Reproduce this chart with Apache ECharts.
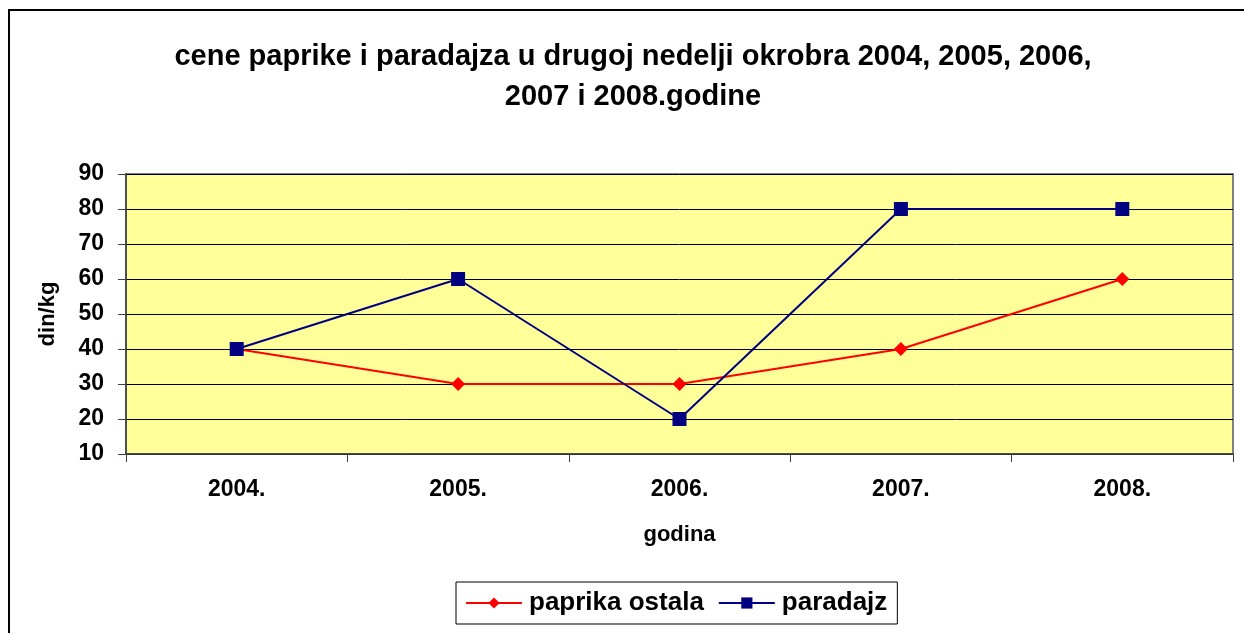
<!DOCTYPE html>
<html>
<head>
<meta charset="utf-8">
<script src="https://cdn.jsdelivr.net/npm/echarts@6/dist/echarts.min.js"></script>
<style>
  html, body { margin: 0; padding: 0; background: #fff; }
  #main { width: 1244px; height: 633px; }
</style>
</head>
<body>
<div id="main"></div>
<script>
// podaci
var godine = ['2004.', '2005.', '2006.', '2007.', '2008.'];
var paprikaOstala = [40, 30, 30, 40, 60];
var paradajz = [40, 60, 20, 80, 80];

var font = 'Arial, "Liberation Sans", sans-serif';

var myChart = echarts.init(document.getElementById('main'));
myChart.setOption({
    animation: false,
    backgroundColor: '#fff',
    title: {
        text: 'cene paprike i paradajza u drugoj nedelji okrobra 2004, 2005, 2006,\n2007 i 2008.godine',
        left: 628,
        textAlign: 'center',
        top: 32,
        textStyle: { fontFamily: font, fontSize: 29, fontWeight: 'bold', color: '#000', lineHeight: 40 }
    },
    graphic: [{
        type: 'rect',
        shape: { x: 9, y: 10, width: 1300, height: 700 },
        style: { fill: 'none', stroke: '#000', lineWidth: 2 },
        silent: true
    }],
    grid: {
        left: 126, top: 174, right: 11, bottom: 179,
        show: true,
        backgroundColor: '#FFFF99',
        borderColor: '#808080',
        borderWidth: 2
    },
    legend: {
        left: 456, top: 582,
        padding: [8, 10, 8, 9],
        itemGap: 14,
        itemWidth: 56,
        itemHeight: 14,
        borderColor: '#000',
        borderWidth: 1,
        textStyle: { fontFamily: font, fontSize: 26, fontWeight: 'bold', color: '#000', padding: [0, 0, 0, 2] },
        data: ['paprika ostala', 'paradajz']
    },
    xAxis: {
        type: 'category',
        data: godine,
        boundaryGap: true,
        name: 'godina',
        nameLocation: 'middle',
        nameGap: 70,
        nameTextStyle: { fontFamily: font, fontSize: 22, fontWeight: 'bold', color: '#000' },
        axisLine: { lineStyle: { color: '#404040', width: 1.5 } },
        axisTick: { show: true, length: 8, lineStyle: { color: '#404040' } },
        axisLabel: { margin: 24, fontFamily: font, fontSize: 23, fontWeight: 'bold', color: '#000' }
    },
    yAxis: {
        type: 'value',
        min: 10, max: 90, interval: 10,
        name: 'din/kg',
        nameLocation: 'middle',
        nameGap: 67,
        nameRotate: 90,
        nameTextStyle: { fontFamily: font, fontSize: 22, fontWeight: 'bold', color: '#000' },
        axisLine: { show: true, lineStyle: { color: '#404040', width: 1.5 } },
        axisTick: { show: true, length: 8, lineStyle: { color: '#404040' } },
        axisLabel: { margin: 22, fontFamily: font, fontSize: 23, fontWeight: 'bold', color: '#000' },
        splitLine: { show: true, lineStyle: { color: '#000', width: 1 } }
    },
    series: [
        {
            name: 'paprika ostala',
            type: 'line',
            data: paprikaOstala,
            symbol: 'diamond',
            symbolSize: 14,
            color: '#FF0000',
            lineStyle: { color: '#FF0000', width: 2 },
            itemStyle: { color: '#FF0000' }
        },
        {
            name: 'paradajz',
            type: 'line',
            data: paradajz,
            symbol: 'rect',
            symbolSize: 14,
            color: '#000080',
            lineStyle: { color: '#000080', width: 2 },
            itemStyle: { color: '#000080' }
        }
    ]
});
</script>
</body>
</html>
